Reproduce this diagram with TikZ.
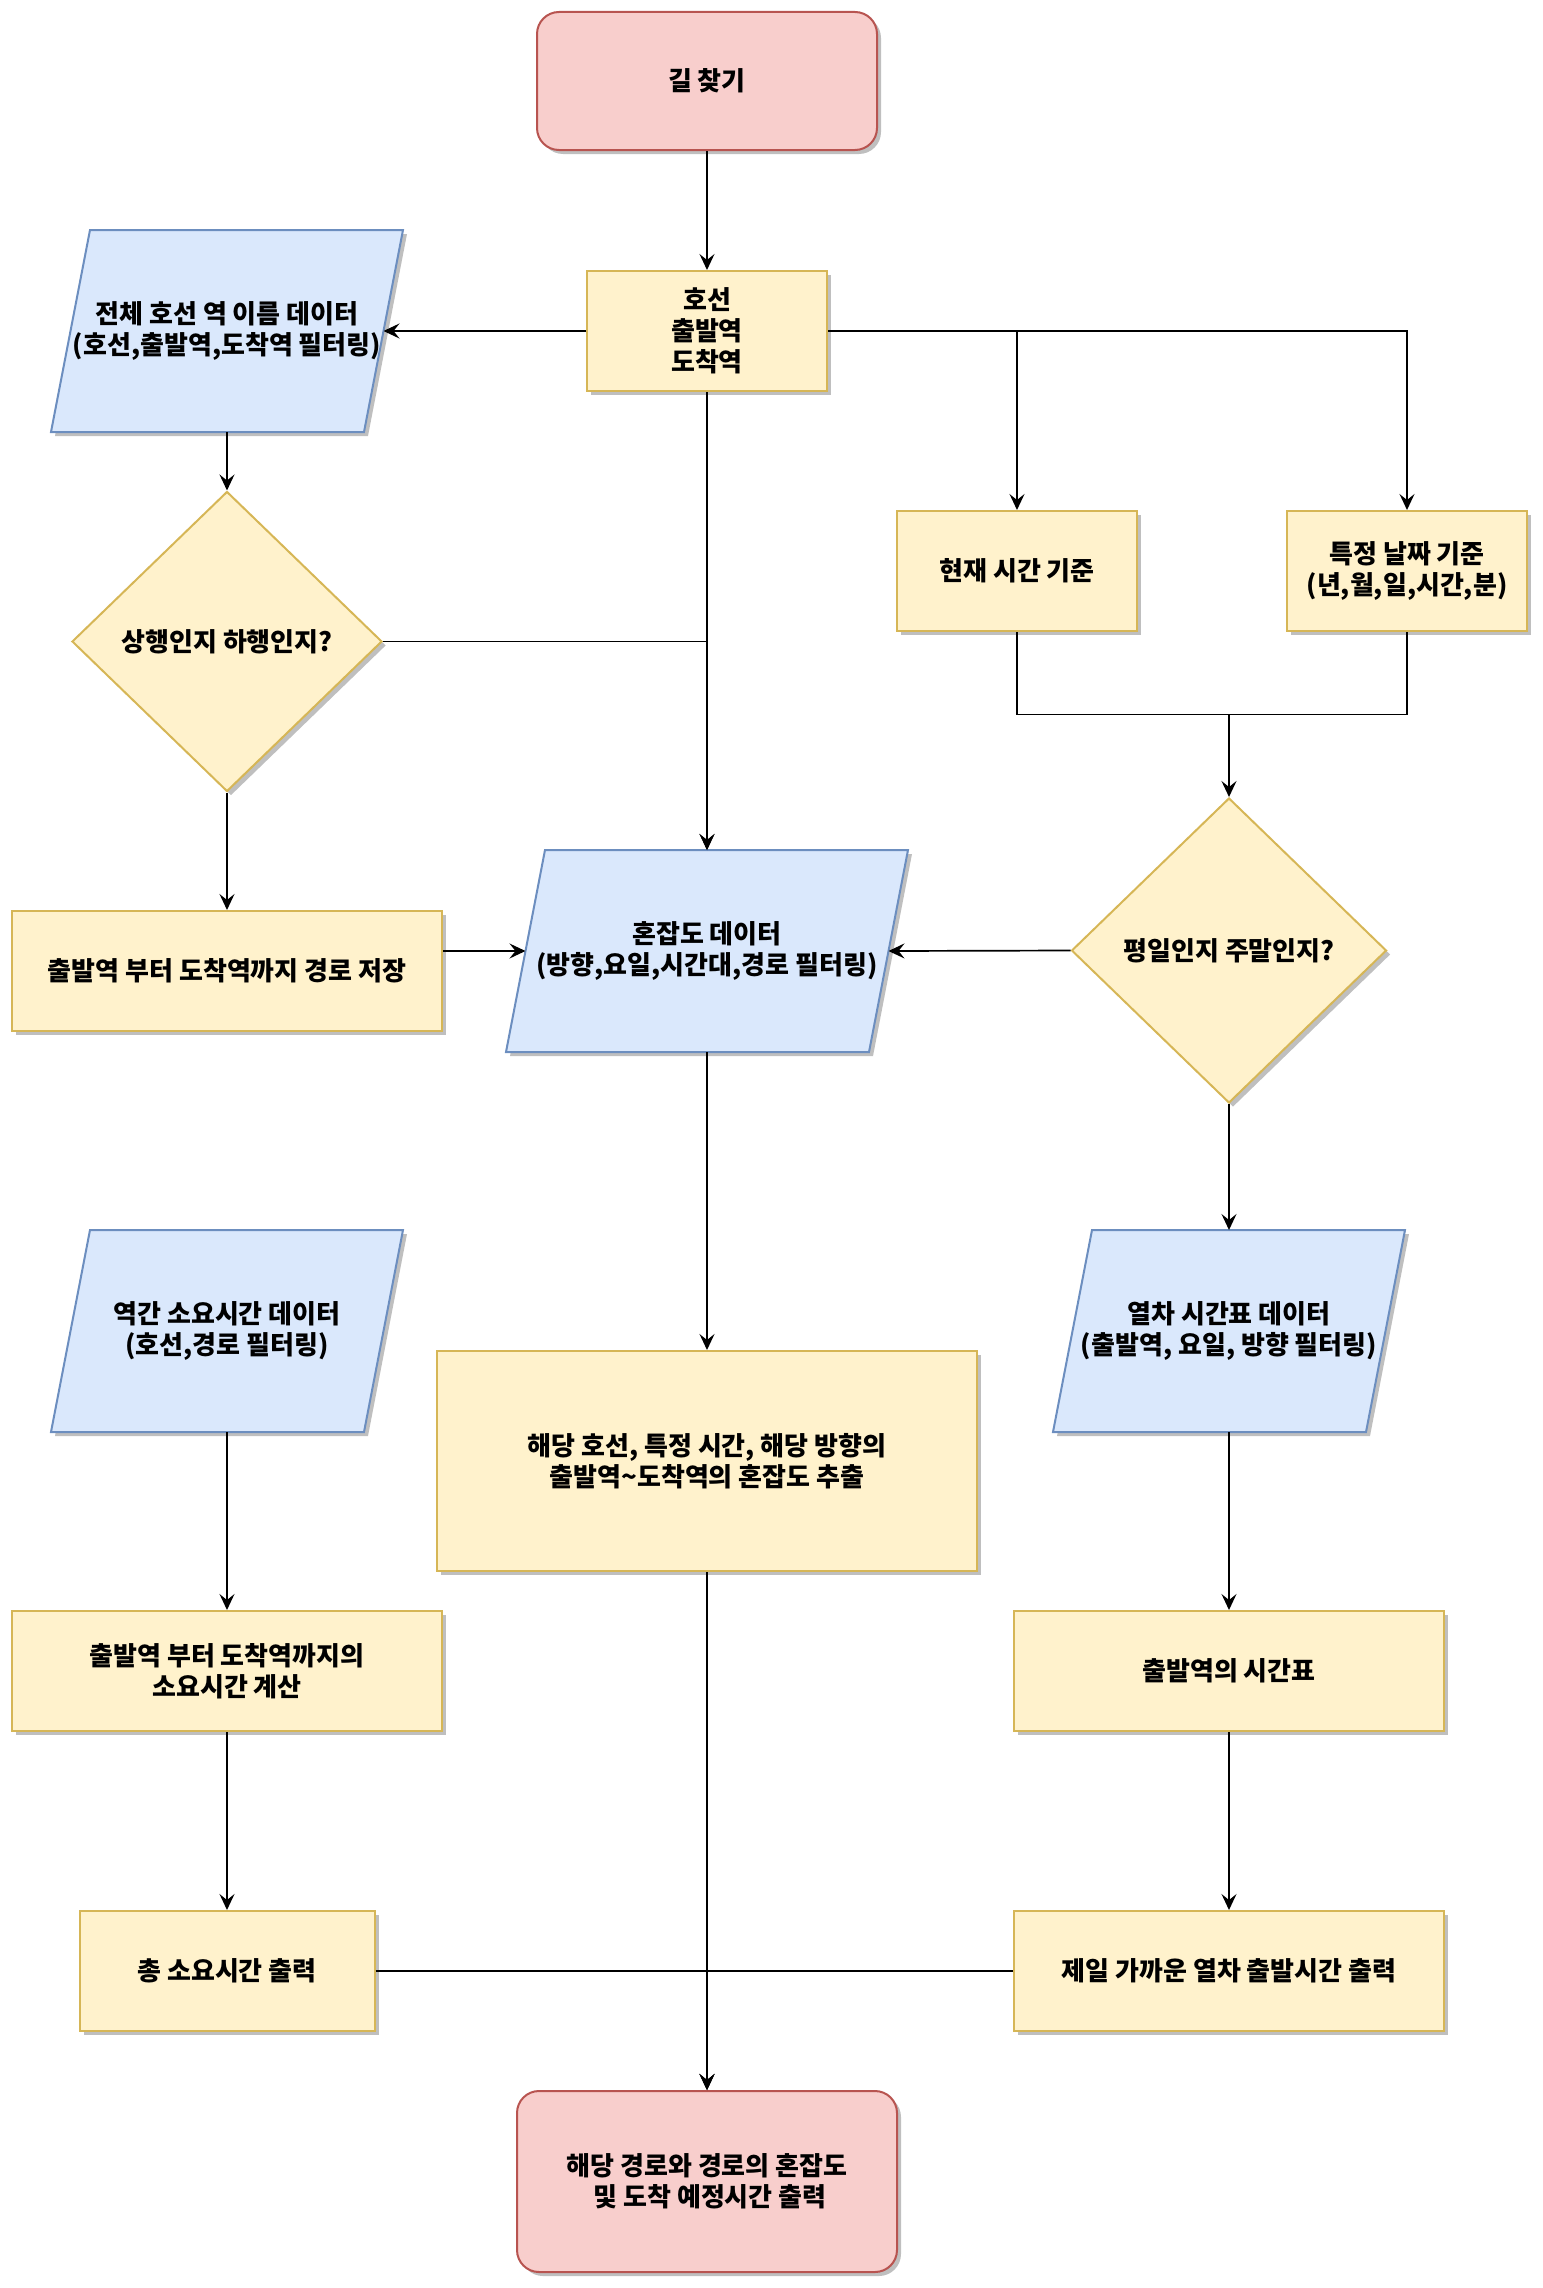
\documentclass[tikz,border=0pt]{standalone}
\usepackage{fontspec}
\setmainfont{Noto Sans CJK KR}
\usetikzlibrary{arrows.meta,shadows,calc,shapes.geometric,backgrounds}

\definecolor{yfill}{HTML}{FFF2CC}
\definecolor{ystroke}{HTML}{D6B656}
\definecolor{bfill}{HTML}{DAE8FC}
\definecolor{bstroke}{HTML}{6C8EBF}
\definecolor{rfill}{HTML}{F8CECC}
\definecolor{rstroke}{HTML}{B85450}

% slanted data box drawn behind the text node #1, #2 = horizontal slant
\newcommand\paradraw[2]{%
  \begin{pgfonlayer}{background}
    \path[datashape] ($(#1.north west)+(#2,0)$) -- (#1.north east)
      -- ($(#1.south east)+(-#2,0)$) -- (#1.south west) -- cycle;
  \end{pgfonlayer}}

\begin{document}
\begin{tikzpicture}[x=1pt, y=-1pt,
  every node/.style={font=\fontsize{26}{31}\selectfont\bfseries, align=center,
    inner sep=0pt, line width=2pt},
  castshadow/.style={drop shadow={shadow xshift=4pt, shadow yshift=-4pt,
    fill=black!25, opacity=1}},
  yellowbox/.style={rectangle, draw=ystroke, fill=yfill, castshadow},
  terminal/.style={rectangle, rounded corners=22pt, draw=rstroke, fill=rfill, castshadow},
  decision/.style={diamond, draw=ystroke, fill=yfill, castshadow},
  datanode/.style={rectangle, minimum width=350pt, minimum height=200pt},
  datashape/.style={draw=bstroke, fill=bfill, line width=2pt, castshadow},
  flow/.style={line width=1.7pt, -{Stealth[length=16pt, width=15pt, inset=6pt]}},
  link/.style={line width=1.7pt}]

\useasboundingbox (0,0) rectangle (1542,2288);

% ---- nodes ----
\node[terminal, minimum width=340pt, minimum height=138pt] (start) at (707,81) {길 찾기};
\node[yellowbox, minimum width=240pt, minimum height=120pt] (hoseon) at (707,331) {호선\\출발역\\도착역};

\node[datanode] (allst) at (227,331) {전체 호선 역 이름 데이터\\(호선,출발역,도착역 필터링)};
\paradraw{allst}{39}

\node[decision, minimum width=310pt, minimum height=300pt] (updown) at (227,641.5) {상행인지 하행인지?};

\node[yellowbox, minimum width=240pt, minimum height=120pt] (now) at (1017,571) {현재 시간 기준};
\node[yellowbox, minimum width=240pt, minimum height=120pt] (spec) at (1407,571) {특정 날짜 기준\\(년,월,일,시간,분)};

\node[decision, minimum width=315pt, minimum height=305pt] (weekday) at (1229,950.5) {평일인지 주말인지?};

\node[datanode, minimum width=400pt] (cong) at (707,951) {혼잡도 데이터\\(방향,요일,시간대,경로 필터링)};
\paradraw{cong}{39}

\node[yellowbox, minimum width=430pt, minimum height=120pt] (save) at (227,971) {출발역 부터 도착역까지 경로 저장};

\node[datanode] (sect) at (227,1331) {역간 소요시간 데이터\\(호선,경로 필터링)};
\paradraw{sect}{39}

\node[yellowbox, minimum width=540pt, minimum height=220pt] (target) at (707,1461) {해당 호선, 특정 시간, 해당 방향의\\출발역\textasciitilde 도착역의 혼잡도 추출};

\node[datanode] (tt) at (1229,1331) {열차 시간표 데이터\\(출발역, 요일, 방향 필터링)};
\paradraw{tt}{39}

\node[yellowbox, minimum width=430pt, minimum height=120pt] (calc) at (227,1671) {출발역 부터 도착역까지의\\소요시간 계산};
\node[yellowbox, minimum width=430pt, minimum height=120pt] (ttst) at (1229,1671) {출발역의 시간표};

\node[yellowbox, minimum width=295pt, minimum height=120pt] (total) at (227,1971) {총 소요시간 출력};
\node[yellowbox, minimum width=430pt, minimum height=120pt] (near) at (1229,1971) {제일 가까운 열차 출발시간 출력};

\node[terminal, minimum width=380pt, minimum height=181pt] (end) at (707,2181.5) {해당 경로와 경로의 혼잡도\\\hspace*{6pt}및 도착 예정시간 출력};

% points on the slanted sides of the data boxes
\coordinate (allst-e) at ($(allst.east)+(-19.5,0)$);
\coordinate (cong-w) at ($(cong.west)+(19.5,0)$);
\coordinate (cong-e) at ($(cong.east)+(-19.5,0)$);
\coordinate (mrg) at ($(now.south)!0.5!(weekday.north)$);

% ---- connectors ----
\draw[flow] (start) -- (hoseon);
\draw[flow] (hoseon.west) -- (allst-e);
\draw[flow] (hoseon.east) -| (now.north);
\draw[flow] (hoseon.east) -| (spec.north);
\draw[flow] (hoseon) -- (cong);
\draw[flow] (updown.east) -| (cong.north);
\draw[flow] (allst) -- (updown);
\draw[flow] (updown) -- (save);
\draw[flow] (save.east |- cong-w) -- (cong-w);
\draw[link] (spec.south) |- (weekday.north |- mrg);
\draw[flow] (now.south) |- (weekday.north |- mrg) -- (weekday.north);
\draw[flow] (weekday.west) -- (cong-e);
\draw[flow] (weekday) -- (tt);
\draw[flow] (cong) -- (target);
\draw[flow] (sect) -- (calc);
\draw[flow] (tt) -- (ttst);
\draw[flow] (calc) -- (total);
\draw[flow] (ttst) -- (near);
\draw[flow] (target) -- (end);
\draw[flow] (total.east) -| (end.north);
\draw[flow] (near.west) -| (end.north);
\end{tikzpicture}
\end{document}
